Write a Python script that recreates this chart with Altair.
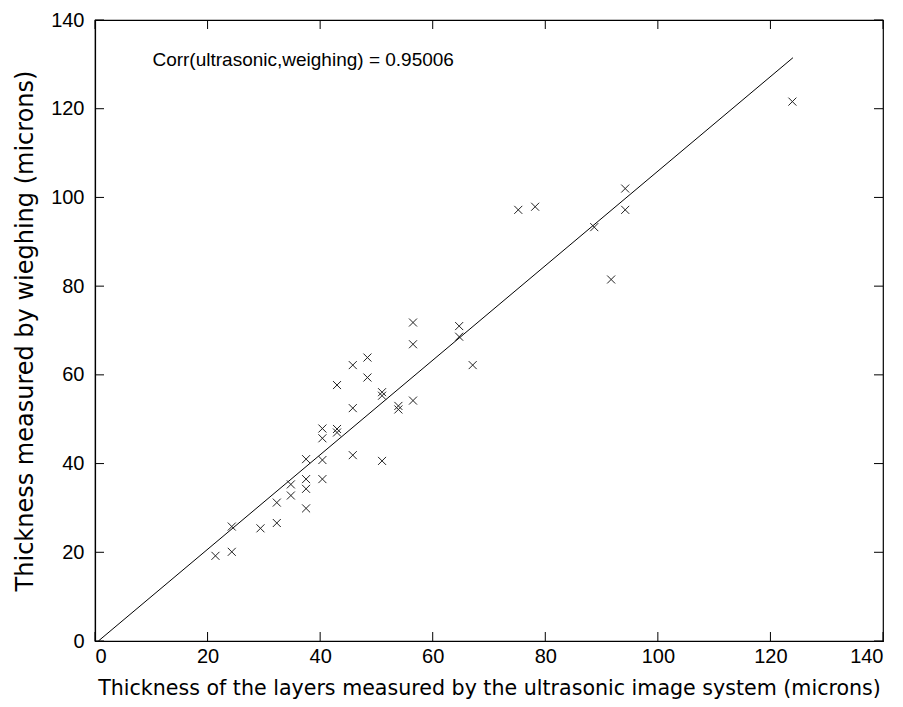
import altair as alt
import pandas as pd

# measured values (microns)
ultra = [21.4, 24.3, 24.3, 29.4, 32.3, 32.3, 34.8, 34.8, 37.5, 37.5, 37.5, 37.5,
         40.4, 40.4, 40.4, 40.4, 43.0, 43.0, 43.0, 45.8, 45.8, 45.8, 48.4, 48.4,
         51.0, 51.0, 51.0, 53.9, 53.9, 56.5, 56.5, 56.5, 64.7, 64.7, 67.1, 75.2,
         78.2, 88.7, 91.7, 94.2, 94.2, 123.9]
weigh = [19.2, 20.1, 25.8, 25.4, 26.6, 31.2, 32.8, 35.3, 29.9, 34.3, 36.5, 41.0,
         36.5, 40.8, 45.7, 47.9, 47.8, 47.0, 57.7, 41.9, 52.5, 62.2, 59.4, 63.9,
         40.6, 56.1, 55.3, 53.0, 52.2, 54.2, 66.9, 71.8, 71.0, 68.6, 62.2, 97.2,
         97.9, 93.3, 81.5, 102.0, 97.2, 121.6]

fit_x = [0.6, 124.0]
fit_y = [0.0, 131.5]

ticks = [0, 20, 40, 60, 80, 100, 120, 140]
label_text = "Corr(ultrasonic,weighing) = 0.95006"
label_pos = (10.2, 131.0)

W, H = 788, 621
FONT = "Liberation Sans"
TFONT = "DejaVu Sans"
TL = 9

pts = pd.DataFrame({"u": ultra, "w": weigh})
fit = pd.DataFrame({"u": fit_x, "w": fit_y})
tk = pd.DataFrame({"t": ticks})

xs = alt.Scale(domain=[0, 140], nice=False, zero=False)
ys = alt.Scale(domain=[0, 140], nice=False, zero=False)

xaxis = alt.Axis(values=ticks, ticks=False, tickSize=0, labelPadding=5, grid=False,
                 title="Thickness of the layers measured by the ultrasonic image system (microns)",
                 titlePadding=12, titleFontSize=20.6)
yaxis = alt.Axis(values=ticks, ticks=False, tickSize=0, labelPadding=11, grid=False,
                 title="Thickness measured by wieghing (microns)", titlePadding=13,
                 titleFontSize=24)

xmark = "M-1,-1L1,1M-1,1L1,-1"

points = alt.Chart(pts).mark_point(shape=xmark, filled=False, size=64, stroke="#222",
                                   strokeWidth=1, opacity=1).encode(
    x=alt.X("u:Q", scale=xs, axis=xaxis),
    y=alt.Y("w:Q", scale=ys, axis=yaxis),
)

line = alt.Chart(fit).mark_line(color="black", strokeWidth=1).encode(
    x=alt.X("u:Q", scale=xs), y=alt.Y("w:Q", scale=ys))

txt = alt.Chart().mark_text(align="left", baseline="middle", font=FONT, fontSize=19,
                            color="black").encode(
    x=alt.datum(label_pos[0]), y=alt.datum(label_pos[1]), text=alt.value(label_text))

tb = alt.Chart(tk).mark_rule(color="black", strokeWidth=1).encode(
    x=alt.X("t:Q", scale=xs), y=alt.value(H), y2=alt.value(H - TL))
tt = alt.Chart(tk).mark_rule(color="black", strokeWidth=1).encode(
    x=alt.X("t:Q", scale=xs), y=alt.value(0), y2=alt.value(TL))
tl = alt.Chart(tk).mark_rule(color="black", strokeWidth=1).encode(
    y=alt.Y("t:Q", scale=ys), x=alt.value(0), x2=alt.value(TL))
tr = alt.Chart(tk).mark_rule(color="black", strokeWidth=1).encode(
    y=alt.Y("t:Q", scale=ys), x=alt.value(W), x2=alt.value(W - TL))

chart = alt.layer(line, points, txt, tb, tt, tl, tr).properties(
    width=W, height=H,
    autosize=alt.AutoSizeParams(type="none"),
    padding={"left": 87, "top": 12, "right": 8, "bottom": 58},
    background="white",
).configure_view(stroke="black", strokeWidth=1.2).configure_axis(
    domainColor="black", domainWidth=1.2, labelFont=FONT, labelFontSize=20,
    labelColor="black", titleFont=TFONT, titleFontWeight="normal",
    titleColor="black",
)

chart.save("out.html", embed_options={"renderer": "svg", "actions": False})
